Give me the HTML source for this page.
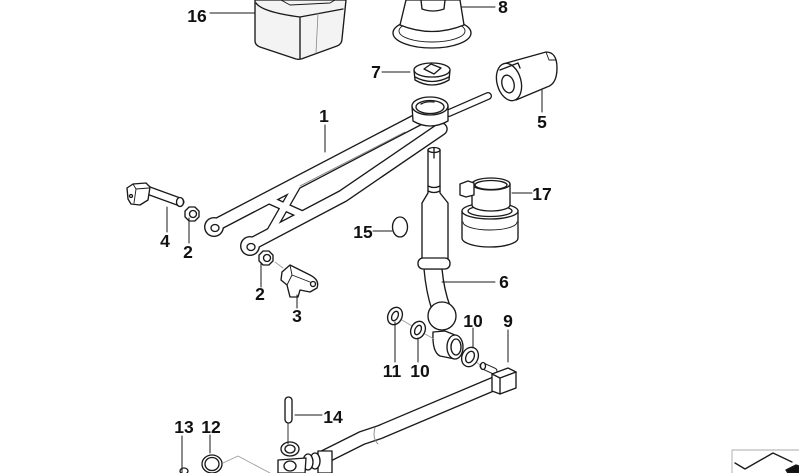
<!DOCTYPE html>
<html><head><meta charset="utf-8">
<style>
html,body{margin:0;padding:0;background:#fff;}
svg{display:block;}
text{font-family:"Liberation Sans",Arial,sans-serif;font-weight:bold;font-size:17.5px;fill:#111;text-anchor:middle;}
</style></head><body>
<svg width="799" height="473" viewBox="0 0 799 473" xmlns="http://www.w3.org/2000/svg">
<g fill="#fff" stroke="#1a1a1a" stroke-width="1.35" stroke-linejoin="round" stroke-linecap="round">

<!-- 16 box -->
<path d="M255,0 L255,41 Q255,45 260,47 L296,59 Q300,60 304,58 L337,46 Q342,44 342,39 L346,0 Z" fill="#f3f3f3"/>
<path d="M256,3 Q262,12 300,17 L343,9" fill="none"/>
<path d="M300,17 L300,59" fill="none"/>
<path d="M318,13 L316,53" fill="none" stroke="#888" stroke-width="0.8"/>
<path d="M281,0 L290,5 L330,3 L335,0" fill="none" stroke-width="0.9"/>

<!-- 8 boot -->
<ellipse cx="432" cy="33" rx="39" ry="15"/>
<ellipse cx="432" cy="31" rx="33" ry="11" fill="none" stroke-width="0.9"/>
<path d="M406,0 L400,25 Q432,38 464,25 L460,0 Z"/>
<path d="M421,0 L422,9 M445,0 L444,9 M422,9 Q433,13 444,9" fill="none"/>

<!-- 7 cap -->
<path d="M414,70 L415,80 Q432,90 449,80 L450,70 Z"/>
<ellipse cx="432" cy="70" rx="18" ry="7"/>
<path d="M415,77 Q432,86 449,77" fill="none"/>
<path d="M424,69 L431,64 L441,68 L434,74 Z" fill="none"/>

<!-- 5 sleeve -->
<path d="M503,64 L546,52 Q557,52 557,68 Q557,84 547,87 L516,100 Z"/>
<path d="M546,52 L549,60 L556,60" fill="none" stroke-width="0.9"/>
<ellipse cx="509" cy="82" rx="12" ry="19" transform="rotate(-15 509 82)"/>
<ellipse cx="508" cy="84" rx="6" ry="9" transform="rotate(-15 508 84)"/>
<path d="M500,70 L518,63 L520,68" fill="none"/>

<!-- 1 lever: outline layer -->
<g fill="none" stroke="#1a1a1a">
  <path d="M449,113 L488,96" stroke-width="8"/>
  <path d="M417,120 L214,226" stroke-width="13.5"/>
  <path d="M441,129 L343,196 L250,245" stroke-width="13.5"/>
  <path d="M300,180 L268,236" stroke-width="9"/>
  <path d="M265,198 L305,216" stroke-width="9"/>
</g>
<circle cx="214" cy="227" r="10" fill="#1a1a1a" stroke="none"/>
<circle cx="250" cy="246" r="10" fill="#1a1a1a" stroke="none"/>
<g fill="none" stroke="#fff">
  <path d="M449,113 L488,96" stroke-width="5.4"/>
  <path d="M417,120 L214,226" stroke-width="10.8"/>
  <path d="M441,129 L343,196 L250,245" stroke-width="10.8"/>
  <path d="M300,180 L268,236" stroke-width="6.4"/>
  <path d="M265,198 L305,216" stroke-width="6.4"/>
</g>
<circle cx="214" cy="227" r="8.6" stroke="none"/>
<circle cx="250" cy="246" r="8.6" stroke="none"/>
<ellipse cx="215" cy="228" rx="4" ry="3.5"/>
<ellipse cx="251" cy="247" rx="4" ry="3.5"/>
<path d="M405,132 L300,186" fill="none" stroke-width="0.8" stroke="#777"/>

<!-- ring of lever -->
<path d="M412,106 L413,121 Q430,131 448,121 L448,106 Z"/>
<ellipse cx="430" cy="106" rx="18" ry="9"/>
<ellipse cx="430" cy="107" rx="14" ry="6.5"/>
<path d="M421,104 Q426,101 434,102" fill="none"/>

<!-- 6 stick -->
<path d="M428,150 L428,193 L422,203 L422,260 L448,260 L448,203 L440,193 L440,150 Z"/>
<ellipse cx="434" cy="150" rx="6" ry="2.5"/>
<path d="M434,148 L434,158" fill="none"/>
<path d="M428,186 Q434,189 440,186 M428,191 Q434,194 440,191" fill="none"/>
<path d="M424,269 Q426,292 432,310 L450,306 Q444,290 442,269 Z"/>
<rect x="418" y="258" width="32" height="11" rx="5"/>
<path d="M433,332 Q432,352 440,356 L455,359 L455,335 L445,331 Z"/>
<circle cx="442" cy="316" r="14"/>
<ellipse cx="455" cy="347" rx="8" ry="12"/>
<ellipse cx="456" cy="347" rx="5" ry="8"/>

<!-- washers -->
<path d="M402,320 L412,326 M425,334 L434,339 M476,362 L483,367" fill="none" stroke="#999" stroke-width="0.8"/>
<ellipse cx="395" cy="316" rx="7" ry="9" transform="rotate(25 395 316)"/>
<ellipse cx="395" cy="316" rx="3" ry="5" transform="rotate(25 395 316)"/>
<ellipse cx="418" cy="330" rx="7" ry="9" transform="rotate(25 418 330)"/>
<ellipse cx="418" cy="330" rx="3" ry="5" transform="rotate(25 418 330)"/>
<ellipse cx="470" cy="357" rx="8" ry="10" transform="rotate(25 470 357)"/>
<ellipse cx="470" cy="357" rx="4" ry="6" transform="rotate(25 470 357)"/>

<!-- 17 -->
<path d="M462,211 L462,238 A28,9 0 0 0 518,238 L518,211 Z"/>
<ellipse cx="490" cy="211" rx="28" ry="8"/>
<path d="M463,222 A27,8 0 0 0 517,222" fill="none" stroke-width="0.9"/>
<ellipse cx="490" cy="211" rx="22" ry="5.5" fill="none"/>
<path d="M472,184 L472,205 A19,6 0 0 0 510,205 L510,184 Z"/>
<ellipse cx="491" cy="184" rx="19" ry="6"/>
<ellipse cx="491" cy="185" rx="16" ry="4.5"/>
<path d="M460,184 L468,181 L474,183 L474,195 L466,197 L460,195 Z"/>

<!-- 15 -->
<ellipse cx="400" cy="227" rx="7.5" ry="10"/>

<!-- 4 -->
<g fill="none">
  <path d="M147,190 L180,202" stroke-width="9"/>
  <path d="M147,190 L180,202" stroke="#fff" stroke-width="6.4"/>
</g>
<ellipse cx="180" cy="202" rx="3.5" ry="4.5"/>
<path d="M127,188 L133,184 L146,183 L150,187 L148,200 L140,205 L131,204 L128,199 Z"/>
<path d="M133,184 L136,189 L149,188 M136,189 L134,203" fill="none" stroke-width="0.9"/>
<circle cx="131" cy="196" r="1.5"/>

<!-- nuts 2 -->
<polygon points="189.1,207 194.9,207 199,211.1 199,216.9 194.9,221 189.1,221 185,216.9 185,211.1"/>
<circle cx="193" cy="214" r="3.5"/>
<polygon points="263.1,251 268.9,251 273,255.1 273,260.9 268.9,265 263.1,265 259,260.9 259,255.1"/>
<circle cx="267" cy="258" r="3.5"/>
<path d="M275,262 L283,268" fill="none" stroke="#999" stroke-width="0.8"/>

<!-- 3 bracket -->
<path d="M282,272 L290,265 L310,275 Q320,280 317,288 L310,292 L300,290 L298,297 L290,297 L287,285 L281,280 Z"/>
<path d="M290,265 L292,275 L310,282 M292,275 L287,285" fill="none" stroke-width="0.9"/>
<circle cx="313" cy="284" r="2.5"/>

<!-- 9 rod -->
<g fill="none">
  <path d="M503,380 L380,432 L362,438 L322,458" stroke-width="14.5"/>
  <path d="M503,380 L380,432 L362,438 L322,458" stroke="#fff" stroke-width="11.8"/>
</g>
<path d="M375,428 Q372,438 378,444" fill="none" stroke-width="0.8" stroke="#777"/>
<path d="M483,366 L494,371" fill="none" stroke-width="7"/>
<path d="M483,366 L494,371" fill="none" stroke="#fff" stroke-width="5"/>
<ellipse cx="483" cy="366" rx="2.5" ry="3.5"/>
<polygon points="492,374 508,368 516,372 516,388 500,394 492,391"/>
<path d="M492,374 L500,378 L516,372 M500,378 L500,394" fill="none"/>

<!-- joint & 14 -->
<rect x="318" y="451" width="14" height="22"/>
<ellipse cx="315" cy="461" rx="5" ry="8"/>
<ellipse cx="308" cy="462" rx="5" ry="8"/>
<path d="M278,460 L278,473 L305,473 L306,458 Z"/>
<ellipse cx="290" cy="449" rx="9" ry="7"/>
<ellipse cx="290" cy="449" rx="5" ry="4"/>
<ellipse cx="290" cy="466" rx="6" ry="5"/>
<rect x="285" y="397" width="7" height="26" rx="3.5"/>
<path d="M288,423 L288,444" fill="none" stroke-width="0.9"/>

<!-- 12, 13 -->
<path d="M223,463 L238,456 L270,473" fill="none" stroke="#999" stroke-width="0.8"/>
<ellipse cx="212" cy="464" rx="10" ry="9"/>
<ellipse cx="212" cy="464" rx="7" ry="6.5"/>
<ellipse cx="184" cy="471" rx="4" ry="3"/>

<!-- icon -->
<rect x="732" y="450" width="80" height="30" fill="none" stroke="#aaa" stroke-width="0.9"/>
<polyline points="735,463 745,469 773,453 792,462" fill="none"/>
<polygon points="786,470 796,465 799,466 799,473 788,473" fill="#111"/>

<!-- leaders -->
<g fill="none" stroke="#1a1a1a" stroke-width="1">
<path d="M210,13 H255"/>
<path d="M462,7 H495"/>
<path d="M382,72 H410"/>
<path d="M542,90 V112"/>
<path d="M325,125 V152"/>
<path d="M512,193 H532"/>
<path d="M373,231 H392"/>
<path d="M167,207 V232"/>
<path d="M189,218 V243"/>
<path d="M261,263 V287"/>
<path d="M297,295 V308"/>
<path d="M442,282 H495"/>
<path d="M473,328 V348"/>
<path d="M508,330 V362"/>
<path d="M395,322 V362"/>
<path d="M418,338 V362"/>
<path d="M295,415 H322"/>
<path d="M182,436 V473"/>
<path d="M210,435 V453"/>
</g>
</g>

<g>
<text x="197" y="22">16</text>
<text x="503" y="13">8</text>
<text x="376" y="78">7</text>
<text x="542" y="128">5</text>
<text x="324" y="122">1</text>
<text x="542" y="200">17</text>
<text x="363" y="238">15</text>
<text x="165" y="247">4</text>
<text x="188" y="258">2</text>
<text x="260" y="300">2</text>
<text x="297" y="322">3</text>
<text x="504" y="288">6</text>
<text x="473" y="327">10</text>
<text x="508" y="327">9</text>
<text x="392" y="377">11</text>
<text x="420" y="377">10</text>
<text x="333" y="423">14</text>
<text x="184" y="433">13</text>
<text x="211" y="433">12</text>
</g>
</svg>
</body></html>
